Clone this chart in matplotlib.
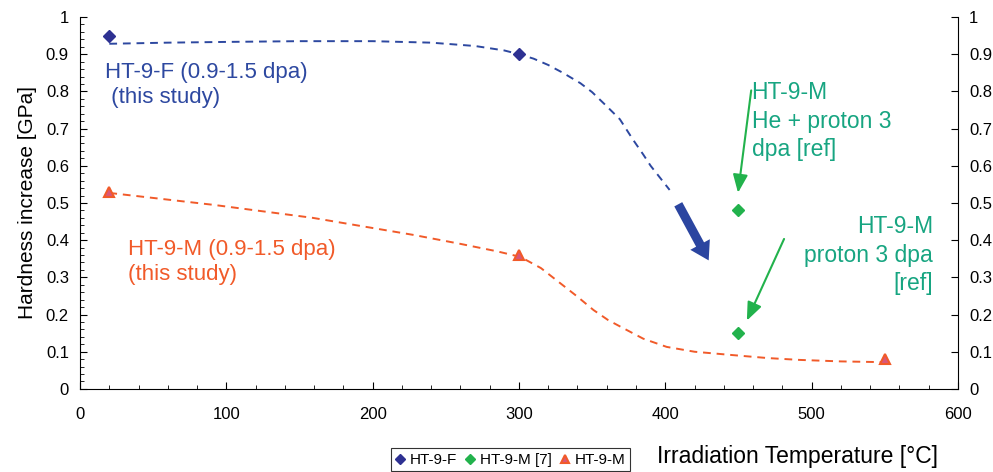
import matplotlib.pyplot as plt
from matplotlib.ticker import MultipleLocator
import numpy as np

plt.rcParams['font.family'] = ['Liberation Sans', 'DejaVu Sans']

# measured points
f_temp = [20, 300]
f_hard = [0.95, 0.90]
mref_temp = [450, 450]
mref_hard = [0.48, 0.15]
m_temp = [20, 300, 550]
m_hard = [0.53, 0.36, 0.08]

# dashed trend lines
f_trend_x = [20, 60, 100, 150, 200, 240, 270, 290, 300, 310, 320, 330, 342, 350, 360,
             369, 378, 385, 390, 397, 403]
f_trend_y = [0.928, 0.931, 0.933, 0.935, 0.935, 0.931, 0.922, 0.91, 0.90, 0.888, 0.871,
             0.85, 0.822, 0.798, 0.76, 0.725, 0.67, 0.63, 0.60, 0.565, 0.535]
m_trend_x = [20, 91, 159, 228, 260, 285, 301, 315, 328, 340, 351, 361, 371, 385, 401,
             420, 446, 470, 492, 520, 549]
m_trend_y = [0.527, 0.495, 0.46, 0.414, 0.39, 0.37, 0.355, 0.325, 0.285, 0.248, 0.212,
             0.185, 0.164, 0.135, 0.113, 0.10, 0.091, 0.083, 0.078, 0.074, 0.072]

blue = '#2d48a0'
navy = '#2e3192'
red = '#f15a29'
green = '#22b24c'
teal = '#17a581'

fig = plt.figure(figsize=(9.93, 4.72), dpi=100)
ax = fig.add_axes([0.0806, 0.176, 0.884, 0.788])

ax.plot(f_trend_x, f_trend_y, linestyle=(0, (4, 3)), color=blue, lw=1.4)
ax.plot(m_trend_x, m_trend_y, linestyle=(0, (4, 3)), color=red, lw=1.4)

ax.plot(f_temp, f_hard, linestyle='', marker='D', ms=6, color=navy, label='HT-9-F')
ax.plot(mref_temp, mref_hard, linestyle='', marker='D', ms=6, color=green, label='HT-9-M [7]')
ax.plot(m_temp, m_hard, linestyle='', marker='^', ms=7, markerfacecolor='#d9567a',
        markeredgecolor=red, markeredgewidth=1.5, label='HT-9-M')

# arrows
ax.annotate('', xy=(430.6, 0.339), xytext=(408, 0.503),
            arrowprops=dict(arrowstyle='simple,head_length=1.3,head_width=1.6,tail_width=0.65',
                            color='#2b45a0', lw=0))
ax.annotate('', xy=(449.5, 0.52), xytext=(459, 0.81),
            arrowprops=dict(arrowstyle='-|>,head_length=1.1,head_width=0.45', color=green, lw=1.5))
ax.annotate('', xy=(455, 0.177), xytext=(482, 0.41),
            arrowprops=dict(arrowstyle='-|>,head_length=1.1,head_width=0.45', color=green, lw=1.5))

ax.text(17, 0.817, 'HT-9-F (0.9-1.5 dpa)\n (this study)', color=blue, fontsize=16,
        va='center', ha='left', linespacing=1.25)
ax.text(33, 0.341, 'HT-9-M (0.9-1.5 dpa)\n(this study)', color=red, fontsize=16,
        va='center', ha='left', linespacing=1.25)
ax.text(459, 0.72, 'HT-9-M\nHe + proton 3\ndpa [ref]', color=teal, fontsize=16.5,
        va='center', ha='left', linespacing=1.3)
ax.text(583, 0.36, 'HT-9-M\nproton 3 dpa\n[ref]', color=teal, fontsize=16.5,
        va='center', ha='right', linespacing=1.3)

ax.set_xlim(0, 600)
ax.set_ylim(0, 1)
ax.xaxis.set_major_locator(MultipleLocator(100))
ax.xaxis.set_minor_locator(MultipleLocator(20))
ax.yaxis.set_major_locator(MultipleLocator(0.1))
ax.yaxis.set_minor_locator(MultipleLocator(0.02))
yt = np.arange(0, 1.01, 0.1)
ax.set_yticks(yt)
ax.set_yticklabels(['0'] + ['%.1f' % v for v in yt[1:-1]] + ['1'])
ax.tick_params(axis='both', which='both', direction='in', labelsize=12)
ax.tick_params(axis='both', which='major', length=5)
ax.tick_params(axis='both', which='minor', length=3)
ax.tick_params(axis='x', pad=13)
ax.tick_params(axis='y', right=True, labelright=True, pad=8)
for lab in ax.get_xticklabels() + ax.get_yticklabels():
    lab.set_family(['Liberation Sans Narrow', 'Liberation Sans'])
ax.spines['top'].set_visible(False)

ax.set_ylabel('Hardness increase [GPa]', fontsize=15, labelpad=6)
fig.text(0.945, 0.033, 'Irradiation Temperature [°C]', fontsize=16.5, ha='right', va='center')

leg = fig.legend(loc='lower center', bbox_to_anchor=(0.514, -0.015), ncol=3, fontsize=11,
                 frameon=True, fancybox=False, edgecolor='black', handlelength=0.6,
                 handletextpad=0.3, columnspacing=0.6, borderpad=0.3, markerscale=0.8)
leg.get_frame().set_linewidth(0.8)

plt.savefig('out.png', dpi=100)
